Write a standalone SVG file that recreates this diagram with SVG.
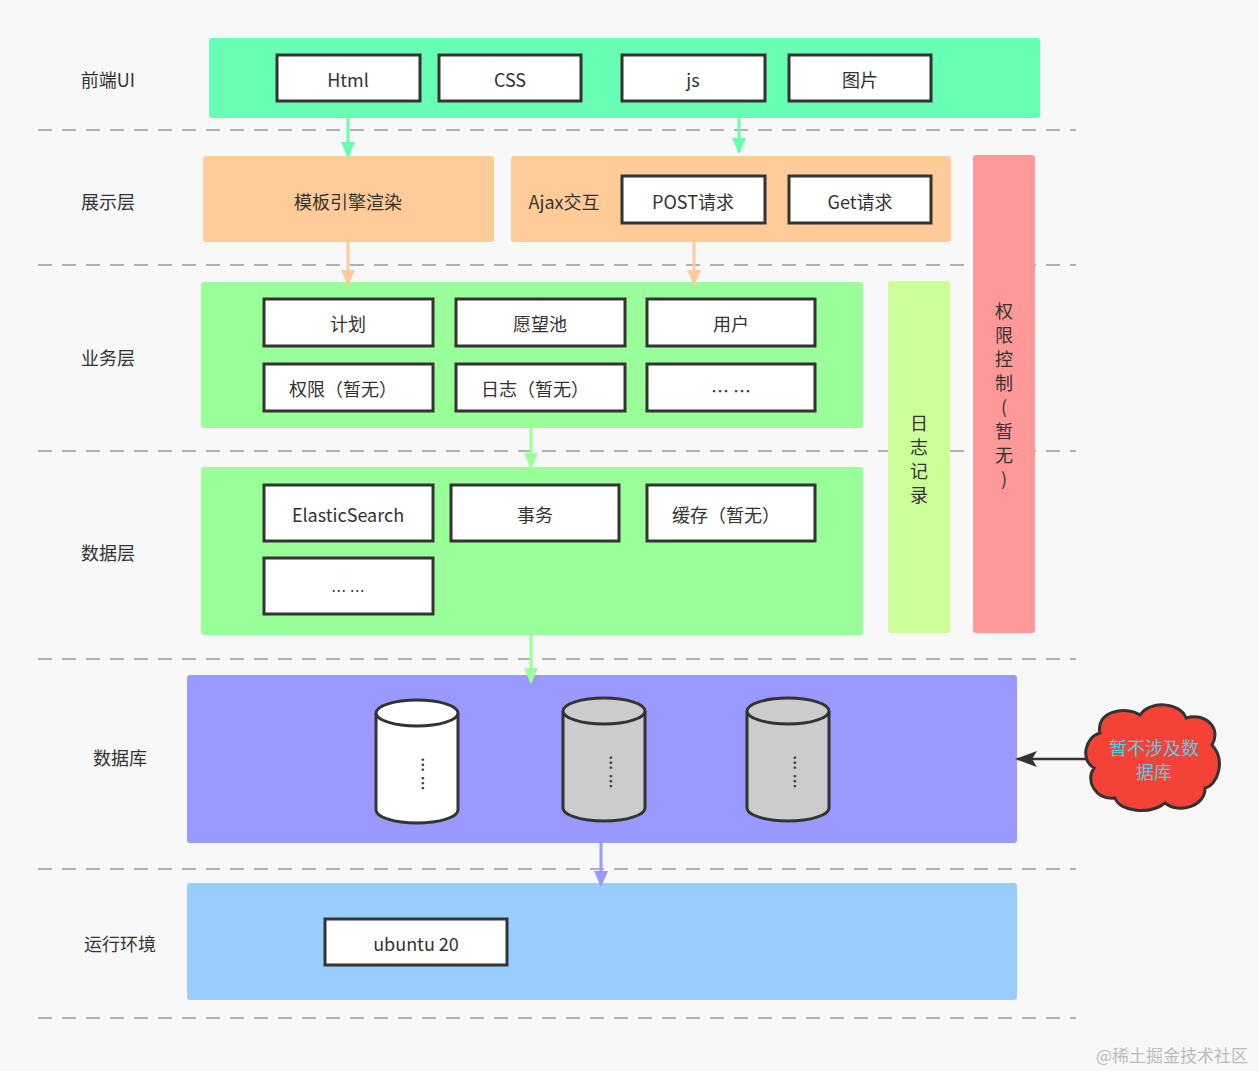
<svg xmlns="http://www.w3.org/2000/svg" width="1259" height="1071" viewBox="0 0 1259 1071">
<style>
text{font-family:"Noto Sans CJK SC","Liberation Sans",sans-serif;font-size:18px;fill:#333;text-anchor:middle;dominant-baseline:central}
.b{fill:#fff;stroke:#333;stroke-width:3}
.d{stroke:#999;stroke-width:1.5;stroke-dasharray:14 10}
.cyl{stroke:#333;stroke-width:3}
.dots{font-size:15px;font-weight:bold;fill:#333}
</style>
<defs>
<marker id="ag" markerWidth="16" markerHeight="16" refX="14" refY="8" orient="auto" markerUnits="userSpaceOnUse" viewBox="0 0 16 16"><path d="M0,1L16,8L0,15z" fill="#66ffaa"/></marker>
<marker id="ao" markerWidth="16" markerHeight="16" refX="14" refY="8" orient="auto" markerUnits="userSpaceOnUse" viewBox="0 0 16 16"><path d="M0,1L16,8L0,15z" fill="#ffcc99"/></marker>
<marker id="ag2" markerWidth="16" markerHeight="16" refX="14" refY="8" orient="auto" markerUnits="userSpaceOnUse" viewBox="0 0 16 16"><path d="M0,1L16,8L0,15z" fill="#99ff99"/></marker>
<marker id="ap" markerWidth="16" markerHeight="16" refX="14" refY="8" orient="auto" markerUnits="userSpaceOnUse" viewBox="0 0 16 16"><path d="M0,1L16,8L0,15z" fill="#9999ff"/></marker>
<marker id="ak" markerWidth="22" markerHeight="16" refX="20" refY="8" orient="auto" markerUnits="userSpaceOnUse" viewBox="0 0 22 16"><path d="M0,0L22,8L0,16L5,8z" fill="#333"/></marker>
</defs>
<rect width="1259" height="1071" fill="#f8f8f8"/>
<g id="dividers">
<line class="d" x1="38" y1="130" x2="1076" y2="130"/>
<line class="d" x1="38" y1="265" x2="1076" y2="265"/>
<line class="d" x1="38" y1="451" x2="1076" y2="451"/>
<line class="d" x1="38" y1="659" x2="1076" y2="659"/>
<line class="d" x1="38" y1="869" x2="1076" y2="869"/>
<line class="d" x1="38" y1="1018" x2="1076" y2="1018"/>
</g>
<g id="labels">
<text x="108" y="79">前端UI</text>
<text x="108" y="201">展示层</text>
<text x="108" y="357">业务层</text>
<text x="108" y="552">数据层</text>
<text x="120" y="757">数据库</text>
<text x="120" y="943">运行环境</text>
</g>
<g id="frontend">
<rect x="209" y="38" width="831" height="80" rx="3" fill="#66ffb3"/>
<rect class="b" x="277" y="55" width="143" height="46"/><text x="348" y="79">Html</text>
<rect class="b" x="439" y="55" width="142" height="46"/><text x="510" y="79">CSS</text>
<rect class="b" x="622" y="55" width="143" height="46"/><text x="693" y="79">js</text>
<rect class="b" x="789" y="55" width="142" height="46"/><text x="860" y="79">图片</text>
</g>
<g id="display">
<rect x="203" y="156" width="291" height="86" rx="3" fill="#ffcc99"/><text x="348" y="201">模板引擎渲染</text>
<rect x="511" y="156" width="440" height="86" rx="3" fill="#ffcc99"/><text x="564" y="201">Ajax交互</text>
<rect class="b" x="622" y="176" width="143" height="47"/><text x="693" y="201">POST请求</text>
<rect class="b" x="789" y="176" width="142" height="47"/><text x="860" y="201">Get请求</text>
</g>
<g id="auth">
<rect x="973" y="155" width="62" height="478" rx="3" fill="#ff9999"/>
<text x="1004" y="310">权</text><text x="1004" y="334">限</text><text x="1004" y="358">控</text><text x="1004" y="382">制</text><text x="1004" y="406">(</text><text x="1004" y="430">暂</text><text x="1004" y="454">无</text><text x="1004" y="478">)</text>
</g>
<g id="log">
<rect x="888" y="281" width="62" height="352" rx="3" fill="#ccff99"/>
<text x="919" y="422">日</text><text x="919" y="446">志</text><text x="919" y="470">记</text><text x="919" y="494">录</text>
</g>
<g id="business">
<rect x="201" y="282" width="662" height="146" rx="3" fill="#99ff99"/>
<rect class="b" x="264" y="299" width="169" height="47"/><text x="348" y="323">计划</text>
<rect class="b" x="456" y="299" width="169" height="47"/><text x="540" y="323">愿望池</text>
<rect class="b" x="647" y="299" width="168" height="47"/><text x="731" y="323">用户</text>
<rect class="b" x="264" y="364" width="169" height="47"/><text x="343" y="388">权限（暂无）</text>
<rect class="b" x="456" y="364" width="169" height="47"/><text x="535" y="388">日志（暂无）</text>
<rect class="b" x="647" y="364" width="168" height="47"/><text x="731" y="390">… …</text>
</g>
<g id="datalayer">
<rect x="201" y="467" width="662" height="168" rx="3" fill="#99ff99"/>
<rect class="b" x="264" y="485" width="169" height="56"/><text x="348" y="514">ElasticSearch</text>
<rect class="b" x="451" y="485" width="168" height="56"/><text x="535" y="514">事务</text>
<rect class="b" x="647" y="485" width="168" height="56"/><text x="726" y="514">缓存（暂无）</text>
<rect class="b" x="264" y="558" width="169" height="56"/><text x="348" y="590" style="font-size:15px">… …</text>
</g>
<g id="database">
<rect x="187" y="675" width="830" height="168" rx="3" fill="#9999ff"/>
<g id="db1"><path class="cyl" fill="#fff" d="M376,713 v97 a41,13 0 0 0 82,0 v-97"/><ellipse class="cyl" fill="#fff" cx="417" cy="713" rx="41" ry="13"/><text class="dots" transform="translate(423,774) rotate(90)">… …</text></g>
<g id="db2"><path class="cyl" fill="#ccc" d="M563,711 v97 a41,13 0 0 0 82,0 v-97"/><ellipse class="cyl" fill="#ccc" cx="604" cy="711" rx="41" ry="13"/><text class="dots" transform="translate(611,772) rotate(90)">… …</text></g>
<g id="db3"><path class="cyl" fill="#ccc" d="M747,711 v97 a41,13 0 0 0 82,0 v-97"/><ellipse class="cyl" fill="#ccc" cx="788" cy="711" rx="41" ry="13"/><text class="dots" transform="translate(795,772) rotate(90)">… …</text></g>
</g>
<g id="runtime">
<rect x="187" y="883" width="830" height="117" rx="3" fill="#99ccff"/>
<rect class="b" x="325" y="919" width="182" height="46"/><text x="416" y="943">ubuntu 20</text>
</g>
<g id="cloud">
<path d="M1100,733 C1095,712 1125,705 1140,715 C1150,700 1180,702 1186,718 C1205,712 1222,728 1212,745 C1226,760 1218,785 1205,788 C1206,805 1180,815 1165,803 C1150,815 1120,812 1115,798 C1095,800 1085,780 1094,768 C1080,760 1085,737 1100,733 Z" fill="#f44336" stroke="#333" stroke-width="3"/>
<text x="1154" y="747" style="fill:#4dd0e1">暂不涉及数</text>
<text x="1154" y="771" style="fill:#4dd0e1">据库</text>
</g>
<g id="connectors" fill="none" stroke-width="3">
<line x1="348" y1="118" x2="348" y2="156" stroke="#66ffaa" marker-end="url(#ag)"/>
<line x1="739" y1="118" x2="739" y2="152" stroke="#66ffaa" marker-end="url(#ag)"/>
<line x1="348" y1="242" x2="348" y2="284" stroke="#ffcc99" marker-end="url(#ao)"/>
<line x1="694" y1="242" x2="694" y2="284" stroke="#ffcc99" marker-end="url(#ao)"/>
<line x1="531" y1="428" x2="531" y2="467" stroke="#99ff99" marker-end="url(#ag2)"/>
<line x1="531" y1="635" x2="531" y2="682" stroke="#99ff99" marker-end="url(#ag2)"/>
<line x1="601" y1="843" x2="601" y2="885" stroke="#9999ff" marker-end="url(#ap)"/>
<line x1="1088" y1="759" x2="1017" y2="759" stroke="#333" stroke-width="2.5" marker-end="url(#ak)"/>
</g>
<text x="1172" y="1054" style="fill:#bbb;font-size:17px">@稀土掘金技术社区</text>
</svg>
